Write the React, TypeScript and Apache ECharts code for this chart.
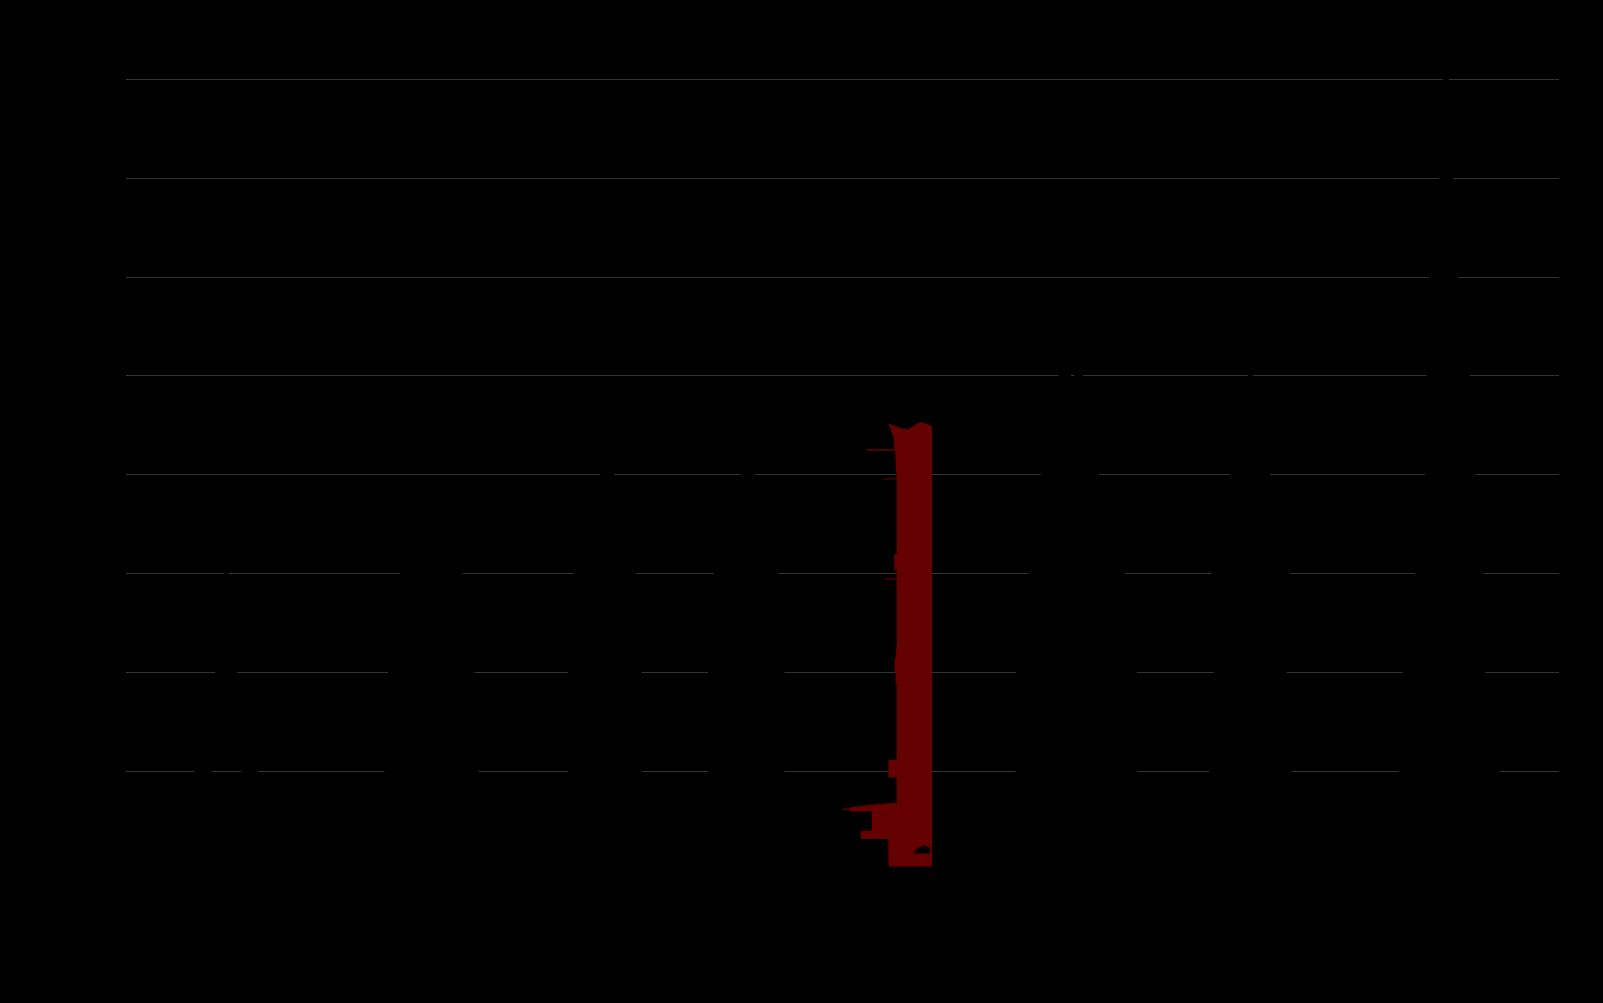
import React, { useEffect, useRef } from 'react';
import * as echarts from 'echarts';

// Structures (x categories) and their heights in metres (y values)
const categories = [
  'Eiffel Tower',
  'Empire State Building',
  'Tower C',
  'Tower D',
  'Petronas Towers',
  'Tower F',
  'Taipei 101',
  'Burj Khalifa',
];
const heights = [324, 380, 440, 445, 453, 530, 508, 828];
const highlightIndex = 4;

// Y axis ticks (metres)
const yMin = 0;
const yMax = 800;
const yInterval = 100;

// Silhouette styles (shape outlines, symbol sizes in px and horizontal nudges)
const silhouettes = [
  {
    path:
      'M52.5,0 L57.5,0 L57.5,24 L66,124 L73,205 L76,205 L76,211 L74,211 L87,224 L97,262 L101,262 L101,270 L98,270 L110,324 L88,324 L82,300 Q55,250 28,300 L22,324 L0,324 L12,270 L9,270 L9,262 L13,262 L23,224 L36,211 L34,211 L34,205 L37,205 L44,124 L52.5,24 Z M38,262 L72,262 L70,224 L62,212 L48,212 L40,224 Z',
    width: 110,
    height: '100%',
    offset: [10.6, 0],
  },
  {
    path:
      'M48,0 L52,0 L52,20 L58,20 L58,40 L66,40 L66,55 L74,55 L78,70 L82,82 L86,120 L93,180 L97,280 L100,380 L0,380 L3,280 L7,180 L14,120 L18,82 L22,70 L26,55 L34,55 L34,40 L42,40 L42,20 L48,20 Z',
    width: 100,
    height: '100%',
    offset: [36.6, 0],
  },
  {
    path:
      'M41,0 L43,0 L43,25 L48,30 L50,45 L55,60 L59,80 L64,100 L68,120 L72,145 L77,170 L77,420 L80,440 L0,440 L3,420 L3,170 L8,145 L12,120 L17,100 L23,80 L28,60 L34,45 L36,30 L41,25 Z',
    width: 80,
    height: '100%',
    offset: [31.1, 0],
  },
  {
    path:
      'M40,0 L42,0 L42,28 L46,33 L48.5,45 L55,62 L60,85 L66,110 L70,130 L73,150 L78.4,175 L78.4,425 L80,445 L0,445 L2,425 L2,175 L7,150 L10,130 L14,110 L20,85 L25,62 L34.6,45 L36,33 L40,28 Z',
    width: 80,
    height: '100%',
    offset: [-6.9, 0],
  },
  {
    path:
      'M45.3,1.6 L52,4 L64,7.6 L72,3 L77,0 L84,2 L88.7,4 L89,8 L89,444 L46,444 L45.3,438 L45.3,416.6 L17.7,416.6 L17.7,408.3 L28.7,408.3 L28.7,389 L7,389 L7,387.5 L0,387.5 L0,386.2 L7,386.2 L7,385 L20,383 L37,381.6 L53.7,380 L53.7,355 L45.3,355 L45.3,337.3 L53.7,337.3 L53.7,262 L52.5,262 L52.5,250 L51.5,250 L51.5,236 L53,236 L53,225 L53.7,225 L53.7,157.6 L42,157.6 L42,156.3 L53.7,156.3 L53.7,148 L51.3,148 L51.3,132 L53.7,132 L53.7,57.5 L39.7,57.5 L39.7,56.4 L53.7,56.4 L53,48.3 L52,28.6 L23.7,28.6 L23.7,27.2 L51.5,27.2 L50.3,15 Z M70,431 L87,431 L87,425 L80,423 L74,426 Z',
    width: 89,
    height: '99.2%',
    offset: [-44.5, 0],
  },
  {
    path:
      'M49,0 L51,0 L55.5,30 L56.5,40 L58,40 L58.6,30 L62,8 L64,8 L67.4,30 L72,60 L78,100 L83.4,130 L95,180 L109.5,230 L121.5,300 L122,530 L0,530 L0.5,300 L13,230 L20,180 L25.3,130 L32,90 L38,60 L42.9,30 Z',
    width: 122,
    height: '100%',
    offset: [-34.7, 0],
  },
  {
    path:
      'M44,0 L46,0 L47.5,8 L47.5,50 L55,50 L58,70 L62,70 L65,110 L67,126 L84.5,126 L79,166 L84.5,166 L79,206 L84.5,206 L79,246 L84.5,246 L79,286 L84.5,286 L79,326 L84.5,326 L79,366 L84.5,366 L79,406 L86,406 L86,470 L88,508 L2,508 L4,470 L4,406 L11,406 L5.5,366 L11,366 L5.5,326 L11,326 L5.5,286 L11,286 L5.5,246 L11,246 L5.5,206 L11,206 L5.5,166 L11,166 L5.5,126 L23,126 L25,110 L28,70 L32,70 L35,50 L42.5,50 L42.5,8 Z',
    width: 86,
    height: '100%',
    offset: [-40, 0],
  },
  {
    path:
      'M52.5,0 L54,0 L56.3,28 L58,80 L61,128 L63,180 L65.3,228 L70,260 L72,300 L77.6,328 L80,380 L83,428 L87,470 L91,528 L92.9,628 L100,680 L107,728 L110,780 L113,828 L0,828 L3,780 L6.4,728 L8,690 L10.6,628 L18,580 L22.5,528 L28,480 L32.8,428 L34,328 L36.7,228 L42,180 L46.7,128 L48.5,80 L50.3,28 Z',
    width: 113,
    height: '100%',
    offset: [-20.5, 0],
  },
];

const RED = '#640000';
const BG = '#000000';
const GRID = '#333333';

export default function App() {
  const ref = useRef<HTMLDivElement>(null);

  useEffect(() => {
    document.body.style.margin = '0';
    document.body.style.background = BG;
    const chart = echarts.init(ref.current as HTMLDivElement, null, { renderer: 'svg' });

    const data = heights.map((v, i) => ({
      value: v,
      symbol: 'path://' + silhouettes[i].path,
      symbolSize: [silhouettes[i].width, silhouettes[i].height],
      symbolOffset: silhouettes[i].offset,
      symbolPosition: 'end',
      itemStyle: { color: i === highlightIndex ? RED : BG },
    }));

    chart.setOption({
      animation: false,
      backgroundColor: BG,
      grid: { left: 126, right: 44, top: 79, bottom: 133 },
      tooltip: { show: false },
      xAxis: {
        type: 'category',
        data: categories,
        axisLine: { show: false },
        axisTick: { show: false },
        axisLabel: { show: false },
        splitLine: { show: false },
      },
      yAxis: {
        type: 'value',
        min: yMin,
        max: yMax,
        interval: yInterval,
        axisLine: { show: false },
        axisTick: { show: false },
        axisLabel: { show: false },
        splitLine: {
          show: true,
          showMinLine: false,
          lineStyle: { color: GRID, width: 1 },
        },
      },
      series: [
        {
          type: 'pictorialBar',
          data,
          symbolRepeat: false,
          symbolClip: false,
          barCategoryGap: '0%',
          silent: true,
          z: 3,
        },
      ],
    });

    return () => chart.dispose();
  }, []);

  return <div ref={ref} style={{ width: 1603, height: 1003, background: BG }} />;
}
